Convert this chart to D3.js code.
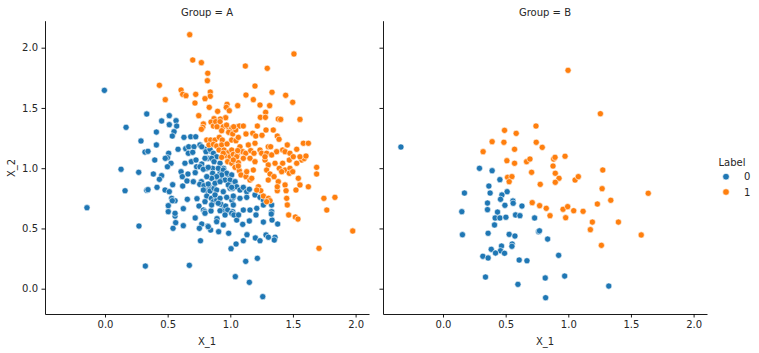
<!DOCTYPE html>
<html>
<head>
<meta charset="utf-8">
<script src="https://cdn.jsdelivr.net/npm/d3@7"></script>
<style>
  body { margin: 0; background: #fff; }
  text { font-family: "DejaVu Sans", sans-serif; fill: #262626; }
</style>
</head>
<body>
<div id="chart"></div>
<script>
// facet names, labels and ticks
var groups = ["A", "B"];
var labels = ["0", "1"];
var tickVals = [0, 0.5, 1, 1.5, 2];

// Group A, Label 0  [X_1, X_2]
var a0 = [
  [-0.005,1.646],[0.333,1.450],[0.513,1.436],[0.452,1.392],[0.567,1.394],[0.513,1.361],[0.572,1.350],
  [0.168,1.339],[0.41,1.30],[0.551,1.303],[0.537,1.267],[0.63,1.256],[0.684,1.261],[0.724,1.261],
  [0.287,1.226],[0.41,1.193],[0.319,1.134],[0.343,1.140],[0.508,1.124],[0.583,1.157],[0.644,1.162],
  [0.668,1.178],[0.71,1.178],[0.758,1.193],[0.80,1.157],[0.84,1.143],[0.665,1.124],[0.70,1.132],
  [0.498,1.087],[0.481,1.082],[0.527,1.041],[0.397,1.068],[0.128,0.991],[0.269,0.966],[0.498,1.012],
  [0.638,1.041],[0.689,1.054],[0.726,1.068],[0.731,1.012],[0.72,0.963],[0.772,1.035],[0.822,1.082],
  [0.872,1.068],[0.812,0.999],[0.859,0.999],[0.859,0.958],[0.386,0.952],[0.452,0.938],[0.434,0.908],
  [0.607,0.971],[0.617,0.930],[0.662,0.952],[0.654,0.894],[0.62,0.852],[0.705,0.888],[0.769,0.888],
  [0.756,0.866],[0.79,0.855],[0.832,0.846],[0.899,0.910],[0.918,0.958],[0.947,0.999],[0.963,0.963],
  [0.984,0.944],[0.934,0.902],[0.958,0.902],[1.006,0.894],[1.038,0.875],[0.998,0.833],[1.019,0.833],
  [0.54,0.863],[0.415,0.841],[0.479,0.819],[0.513,0.805],[0.16,0.813],[0.333,0.817],[0.343,0.822],
  [0.816,0.811],[0.838,0.811],[0.87,0.833],[0.812,0.769],[0.849,0.750],[0.865,0.722],[0.891,0.736],
  [0.734,0.747],[0.657,0.742],[0.532,0.750],[0.559,0.730],[0.537,0.730],[0.505,0.689],[0.505,0.639],
  [0.625,0.664],[0.75,0.686],[0.785,0.653],[0.796,0.639],[0.846,0.645],[0.926,0.700],[0.939,0.653],
  [0.963,0.686],[1.011,0.736],[1.024,0.758],[0.979,0.653],[1.019,0.639],[-0.144,0.672],[0.559,0.603],
  [0.72,0.587],[0.894,0.581],[0.772,1.178],[0.806,1.137],[0.838,1.157],[0.865,1.124],[0.891,1.095],
  [0.798,1.082],[0.851,1.082],[0.87,1.054],[0.918,1.041],[0.758,1.012],[0.785,0.991],[0.824,1.007],
  [0.904,0.999],[0.944,0.985],[0.971,0.958],[1.011,0.944],[0.931,0.944],[0.891,0.930],[0.851,0.916],
  [0.812,0.930],[0.824,0.869],[0.878,0.875],[0.918,0.888],[0.998,0.902],[1.038,0.888],[1.051,0.846],
  [0.984,0.861],[1.011,0.841],[1.077,0.819],[1.104,0.841],[1.131,0.805],[1.152,0.825],[0.785,0.819],
  [0.891,0.819],[0.944,0.805],[0.878,0.778],[0.918,0.750],[0.971,0.758],[1.024,0.769],[1.077,0.750],
  [1.131,0.758],[1.197,0.778],[1.237,0.758],[1.264,0.736],[0.798,0.722],[0.851,0.695],[0.904,0.709],
  [1.024,0.695],[1.104,0.653],[1.157,0.653],[1.211,0.667],[1.264,0.695],[1.33,0.695],[1.33,0.639],
  [0.271,0.520],[0.322,0.188],[0.673,0.194],[0.543,0.501],[0.625,0.523],[0.559,0.626],[0.564,0.548],
  [0.772,0.537],[0.753,0.501],[0.762,0.398],[0.82,0.520],[0.843,0.487],[0.891,0.556],[0.907,0.473],
  [0.944,0.529],[0.987,0.460],[1.006,0.332],[1.046,0.371],[1.04,0.10],[1.051,0.570],[0.798,0.626],
  [0.918,0.647],[0.958,0.612],[1.011,0.626],[1.029,0.612],[1.152,0.053],[1.259,-0.066],[1.123,0.227],
  [1.216,0.252],[1.104,0.398],[1.133,0.448],[1.2,0.421],[1.237,0.398],[1.285,0.446],[1.304,0.427],
  [1.357,0.427],[1.351,0.404],[1.264,0.553],[1.333,0.570],[1.378,0.537],[1.152,0.562],[1.099,0.534],
  [1.205,0.612],[1.327,0.620],[0.824,0.515],[1.066,0.612]
];

// Group A, Label 1
var a1 = [
  [0.676,2.108],[0.70,1.898],[0.769,1.876],[0.82,1.788],[0.817,1.726],[0.434,1.688],[0.481,1.569],
  [0.607,1.649],[0.62,1.613],[0.646,1.602],[0.724,1.613],[0.84,1.632],[0.84,1.597],[0.798,1.577],
  [0.718,1.541],[0.832,1.505],[0.748,1.436],[0.899,1.472],[0.974,1.530],[0.968,1.505],[0.992,1.477],
  [1.059,1.519],[0.963,1.419],[0.87,1.411],[0.92,1.408],[1.508,1.948],[1.12,1.848],[1.295,1.829],
  [1.197,1.682],[1.333,1.630],[1.442,1.605],[1.498,1.547],[1.125,1.607],[1.184,1.569],[1.237,1.524],
  [1.314,1.519],[1.282,1.464],[1.24,1.422],[1.28,1.422],[1.383,1.408],[1.402,1.405],[1.556,1.405],
  [0.785,1.367],[0.78,1.339],[0.769,1.323],[0.846,1.383],[0.865,1.350],[0.883,1.386],[0.918,1.386],
  [0.894,1.344],[0.944,1.344],[0.931,1.311],[0.99,1.331],[1.011,1.331],[1.051,1.344],[1.072,1.350],
  [0.987,1.298],[1.019,1.284],[0.812,1.234],[0.843,1.234],[0.878,1.234],[0.912,1.256],[0.936,1.234],
  [0.83,1.193],[0.865,1.198],[0.891,1.184],[0.931,1.193],[0.974,1.201],[1.011,1.234],[1.045,1.228],
  [1.064,1.256],[0.91,1.151],[0.95,1.151],[0.984,1.129],[1.011,1.151],[0.958,1.104],[0.998,1.095],
  [1.024,1.115],[1.056,1.11],[0.979,1.054],[1.011,1.041],[1.064,1.046],[0.97,1.358],[1.104,1.350],
  [1.043,1.317],[1.027,1.344],[1.216,1.350],[1.285,1.317],[1.343,1.317],[1.179,1.290],[1.125,1.284],
  [1.203,1.267],[1.253,1.273],[1.375,1.267],[1.389,1.240],[1.455,1.193],[1.583,1.207],[1.623,1.207],
  [1.53,1.157],[1.303,1.178],[1.322,1.178],[1.144,1.193],[1.197,1.207],[1.237,1.151],[1.25,1.124],
  [1.37,1.137],[1.418,1.151],[1.437,1.137],[1.077,1.178],[1.099,1.137],[1.059,1.146],[1.123,1.124],
  [1.163,1.146],[1.189,1.124],[0.944,1.124],[0.931,1.090],[1.051,1.095],[1.104,1.082],[1.157,1.082],
  [1.197,1.054],[1.277,1.068],[1.303,1.027],[1.357,1.041],[1.418,1.041],[1.471,1.068],[1.57,1.068],
  [1.59,1.08],[1.391,0.999],[1.437,0.985],[1.476,0.999],[1.41,0.971],[1.471,0.958],[1.498,0.971],
  [1.689,1.007],[1.689,0.952],[1.543,0.916],[1.556,0.861],[1.524,0.819],[1.623,0.846],[1.437,0.861],
  [1.445,0.813],[1.375,0.813],[1.45,0.750],[1.455,0.695],[1.466,0.612],[1.519,0.595],[1.54,0.578],
  [1.747,0.750],[1.835,0.758],[1.77,0.653],[1.224,0.846],[1.243,0.813],[1.211,0.819],[1.264,0.769],
  [1.304,0.750],[1.317,0.730],[1.29,0.722],[1.024,1.068],[1.038,1.007],[1.072,0.979],[1.064,1.018],
  [1.085,0.944],[1.125,0.930],[1.157,0.902],[1.171,0.916],[1.131,0.971],[1.184,0.985],[1.29,0.985],
  [1.317,0.952],[1.349,0.930],[1.303,0.902],[1.383,0.888],[1.375,0.846],[1.29,1.124],[1.33,1.11],
  [1.277,1.095],[1.476,1.124],[1.503,1.095],[1.556,1.095],[1.604,1.101],[1.53,1.041],[1.708,0.335],
  [1.977,0.479]
];

// Group B, Label 0
var b0 = [
  [-0.336,1.176],[0.291,0.999],[0.392,0.979],[0.454,0.905],[0.366,0.852],[0.171,0.794],[0.376,0.794],
  [0.512,0.805],[0.47,0.778],[0.459,0.742],[0.355,0.711],[0.355,0.656],[0.558,0.728],[0.56,0.709],
  [0.494,0.692],[0.63,0.686],[0.15,0.639],[0.435,0.636],[0.416,0.587],[0.454,0.587],[0.502,0.593],
  [0.579,0.612],[0.614,0.606],[0.731,0.587],[0.411,0.529],[0.36,0.460],[0.155,0.448],[0.528,0.451],
  [0.574,0.437],[0.763,0.473],[0.77,0.48],[0.835,0.412],[0.552,0.371],[0.55,0.352],[0.467,0.354],
  [0.385,0.327],[0.459,0.315],[0.419,0.296],[0.491,0.294],[0.318,0.269],[0.36,0.255],[0.608,0.238],
  [0.67,0.232],[0.923,0.277],[0.339,0.097],[0.816,0.089],[0.971,0.105],[0.598,0.036],[0.819,-0.075],
  [1.323,0.022]
];

// Group B, Label 1
var b1 = [
  [0.998,1.812],[1.256,1.452],[0.742,1.350],[0.491,1.314],[0.584,1.289],[0.392,1.220],[0.486,1.215],
  [0.744,1.215],[0.792,1.173],[0.571,1.157],[0.32,1.137],[0.51,1.062],[0.571,1.041],[0.667,1.054],
  [0.694,1.076],[0.883,1.076],[0.894,1.090],[0.974,1.099],[0.878,1.018],[0.707,0.966],[0.896,0.958],
  [1.275,0.985],[0.515,0.924],[0.55,0.930],[0.528,0.888],[0.926,0.916],[0.896,0.883],[0.776,0.866],
  [1.054,0.902],[1.08,0.930],[0.712,0.714],[0.771,0.689],[0.824,0.667],[0.854,0.606],[0.958,0.659],
  [0.995,0.681],[0.979,0.589],[1.043,0.647],[1.27,0.830],[1.638,0.792],[1.232,0.703],[1.339,0.734],
  [1.118,0.642],[1.192,0.553],[1.176,0.490],[1.4,0.553],[1.582,0.446],[1.264,0.360]
];

var W = 759, H = 353;
var colors = {"0": "#1f77b4", "1": "#ff7f0e"};
var panels = [
  {name: groups[0], left: 45, sets: [[a0, "0"], [a1, "1"]]},
  {name: groups[1], left: 383, sets: [[b0, "0"], [b1, "1"]]}
];
var pw = 324, plotTop = 20.7, plotBottom = 314;

var svg = d3.select("#chart").append("svg")
  .attr("width", W)
  .attr("height", H);

var y = d3.scaleLinear().domain([-0.21, 2.224]).range([plotBottom, plotTop]);

panels.forEach(function(p, i) {
  var x = d3.scaleLinear().domain([-0.479, 2.107]).range([p.left, p.left + pw]);

  // points
  var g = svg.append("g");
  p.sets.forEach(function(s) {
    g.selectAll(null)
      .data(s[0])
      .enter()
      .append("circle")
      .attr("cx", function(d) { return x(d[0]); })
      .attr("cy", function(d) { return y(d[1]); })
      .attr("r", 3.1)
      .attr("fill", colors[s[1]])
      .attr("stroke", "#fff")
      .attr("stroke-width", 0.6);
  });

  // x axis
  var xa = svg.append("g")
    .attr("transform", "translate(0," + plotBottom + ")")
    .call(d3.axisBottom(x).tickValues(tickVals).tickFormat(d3.format(".1f"))
      .tickSize(3.5).tickPadding(3.5).tickSizeOuter(0));
  // y axis (labels only on first panel)
  var ya = svg.append("g")
    .attr("transform", "translate(" + p.left + ",0)")
    .call(d3.axisLeft(y).tickValues(tickVals).tickFormat(i == 0 ? d3.format(".1f") : "")
      .tickSize(3.5).tickPadding(3.5).tickSizeOuter(0));

  [xa, ya].forEach(function(a) {
    a.select(".domain").attr("stroke", "#000").attr("stroke-width", 0.9);
    a.selectAll(".tick line").attr("stroke", "#000").attr("stroke-width", 0.9);
    a.selectAll(".tick text").attr("font-size", 10).attr("fill", "#262626")
      .attr("font-family", "DejaVu Sans, sans-serif");
  });

  svg.append("text")
    .attr("x", p.left + pw / 2)
    .attr("y", 16)
    .attr("text-anchor", "middle")
    .attr("font-size", 10)
    .text("Group = " + p.name);

  svg.append("text")
    .attr("x", p.left + pw / 2)
    .attr("y", 345)
    .attr("text-anchor", "middle")
    .attr("font-size", 10)
    .text("X_1");
});

svg.append("text")
  .attr("transform", "translate(15,168) rotate(-90)")
  .attr("text-anchor", "middle")
  .attr("font-size", 10)
  .text("X_2");

// legend
var lg = svg.append("g");
lg.append("text")
  .attr("x", 732).attr("y", 165.5)
  .attr("text-anchor", "middle")
  .attr("font-size", 10)
  .text("Label");
labels.forEach(function(l, i) {
  lg.append("circle")
    .attr("cx", 726).attr("cy", 176.7 + i * 15.3)
    .attr("r", 3.3)
    .attr("fill", colors[l])
    .attr("stroke", "#fff")
    .attr("stroke-width", 0.6);
  lg.append("text")
    .attr("x", 744).attr("y", 180.3 + i * 15.3)
    .attr("font-size", 10)
    .text(l);
});
</script>
</body>
</html>
